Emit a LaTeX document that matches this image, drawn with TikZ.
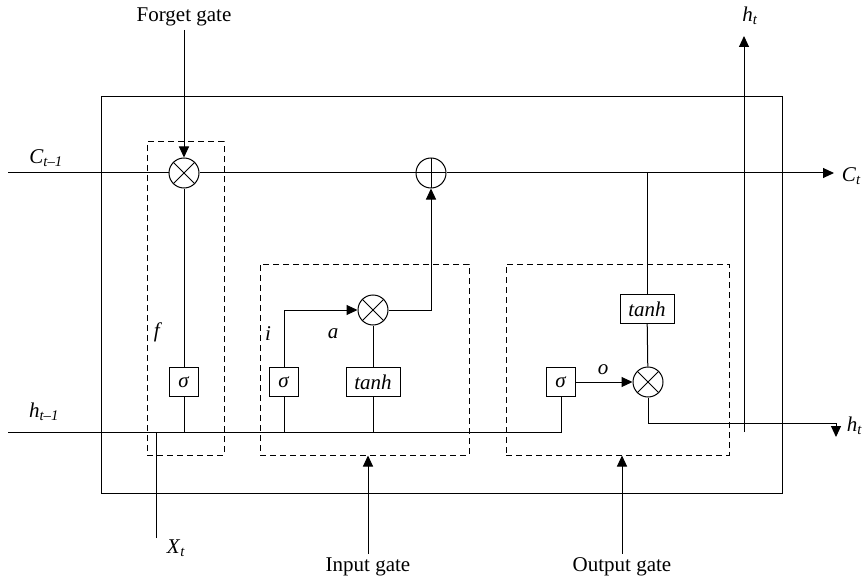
\documentclass[tikz,border=0pt]{standalone}
\usepackage{fontspec}
\setmainfont{Liberation Serif}
\usepackage{tikz}
\usetikzlibrary{arrows.meta, positioning}
\newcommand\lsub[2]{\textit{#1}\textsubscript{\textit{#2}}}

\begin{document}
\begin{tikzpicture}[
	x=1pt, y=-1pt,
	line width=1pt,
	font=\fontsize{21}{25}\selectfont,
	tip/.style={-{Triangle[length=11pt,width=10pt]}},
	opbox/.style={draw, fill=white, minimum height=29pt, minimum width=29pt, inner sep=2pt},
	gatebox/.style={draw, dashed, dash pattern=on 6pt off 4pt, inner sep=0pt},
	mult/.style={draw, circle, fill=white, minimum size=30pt, inner sep=0pt,
		path picture={\draw (path picture bounding box.north west) -- (path picture bounding box.south east)
			(path picture bounding box.north east) -- (path picture bounding box.south west);}},
	addop/.style={draw, circle, fill=white, minimum size=30pt, inner sep=0pt,
		path picture={\draw (path picture bounding box.north) -- (path picture bounding box.south)
			(path picture bounding box.west) -- (path picture bounding box.east);}}
	]
	\useasboundingbox (0,0) rectangle (865,583);
	
	% cell
	\draw (101,97) rectangle (782,493);
	
	% gates
	\node[gatebox, minimum width=77pt, minimum height=313pt] (fgate) at (185.5,298.5) {};
	\node[gatebox, minimum width=209pt, minimum height=191pt] (igate) at (364.5,359.5) {};
	\node[gatebox, minimum width=223pt, minimum height=191pt] (ogate) at (617.5,359.5) {};
	
	% ends
	\coordinate (cin) at (8,173);
	\coordinate (cout) at (834,173);
	\coordinate (hin) at (8,432);
	\coordinate (xin) at (156,538);
	\coordinate (hturn) at (836,423);
	\coordinate (hout) at (836,437);
	\coordinate (hbot) at (744,432);
	\coordinate (htop) at (744,36);
	
	% operations
	\node[mult] (fx) at (184,173) {};
	\node[addop] (plus) at (431,173) {};
	\node[mult] (ix) at (373,310) {};
	\node[mult] (ox) at (648,382) {};
	\node[opbox] (fs) at (184,382) {\textit{σ}};
	\node[opbox] (is) at (284,382) {\textit{σ}};
	\node[opbox, minimum width=54pt] (it) at (373,382) {\textit{tanh}};
	\node[opbox] (os) at (561,382) {\textit{σ}};
	\node[opbox, minimum width=54pt] (ot) at (647,309) {\textit{tanh}};
	
	% labels
	\node (flabel) at (184,17) {Forget gate};
	\node (ilabel) at (368,567) {Input gate};
	\node (olabel) at (622,567) {Output gate};
	\node (cinlabel) at (46,158) {\lsub{C}{t–1}};
	\node[anchor=west] (coutlabel) at (838,176) {\lsub{C}{t}};
	\node (hinlabel) at (44,412) {\lsub{h}{t–1}};
	\node[anchor=west] (houtlabel) at (843,426) {\lsub{h}{t}};
	\node (htoplabel) at (750,16) {\lsub{h}{t}};
	\node (xlabel) at (176,548) {\lsub{X}{t}};
	\node (flab) at (158,332) {\textit{f}};
	\node (ilab) at (268,334) {\textit{i}};
	\node (alab) at (333,334) {\textit{a}};
	\node (olab) at (603,370) {\textit{o}};
	
	% cell state
	\draw (cin) -- (fx) -- (plus);
	\draw[tip] (plus) -- (cout);
	\draw[tip] (flabel) -- (fx);
	
	% hidden input
	\draw (hin) -- (hin -| os) -- (os);
	\draw (xin) -- (xin |- hin);
	\draw (fs.south) -- (fs.south |- hin);
	\draw (fs) -- (fx);
	\draw (is.south) -- (is.south |- hin);
	\draw[tip] (is.north) |- (ix);
	\draw (it.south) -- (it.south |- hin);
	\draw (it) -- (ix);
	\draw[tip] (ix) -| (plus);
	
	% output
	\draw[tip] (os) -- (ox);
	\draw (ot.north) -- (ot.north |- cin);
	\draw (ot) -- (ox);
	\draw[tip] (ox.south) |- (hturn) -- (hout);
	\draw[tip] (hbot) -- (htop);
	
	% gate inputs
	\draw[tip] (ilabel.north) -- (ilabel.north |- igate.south);
	\draw[tip] (olabel.north) -- (olabel.north |- ogate.south);
\end{tikzpicture}
\end{document}
